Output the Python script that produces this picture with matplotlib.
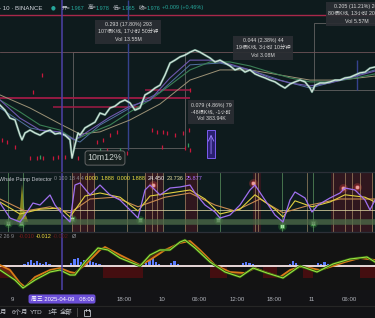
import numpy as np
import matplotlib
matplotlib.use('Agg')
import matplotlib.pyplot as plt
from matplotlib.patches import Rectangle
from matplotlib.lines import Line2D

plt.rcParams['font.family'] = ['Liberation Sans', 'Noto Sans CJK SC', 'DejaVu Sans']

# ---------------- data (time = hours from 2025-04-09 00:00) ----------------
price_t = [-1.92, -1.12, -0.32, 0.48, 1.28, 1.60, 2.08, 2.88, 3.68, 4.48,
           5.28, 6.08, 6.88, 7.68, 8.48, 9.28, 9.60, 10.08, 10.56, 10.88,
           11.68, 12.48, 13.28, 14.08, 14.88, 15.68, 16.48, 17.28, 18.08, 18.88,
           19.68, 20.48, 21.28, 22.08, 22.88, 23.68, 24.48, 25.28, 26.08, 26.88,
           27.68, 28.48, 29.28, 30.08, 30.88, 31.68, 32.48, 33.28, 34.08, 34.88,
           35.68, 36.48, 37.28, 38.08, 38.88, 39.68, 40.48, 41.28, 42.08, 42.88,
           43.68, 44.48, 45.28, 46.08, 46.88, 47.68, 48.00, 48.48, 49.28, 50.08,
           50.88, 51.68, 52.48, 53.28, 54.08, 54.88, 55.68, 56.48, 57.28, 58.08]
price_v = [1.798, 1.784, 1.762, 1.757, 1.715, 1.702, 1.721, 1.729, 1.721, 1.715,
           1.724, 1.729, 1.718, 1.721, 1.715, 1.702, 1.652, 1.688, 1.721, 1.715,
           1.735, 1.743, 1.751, 1.776, 1.771, 1.790, 1.795, 1.806, 1.812, 1.804,
           1.784, 1.790, 1.826, 1.834, 1.845, 1.853, 1.881, 1.914, 1.922, 1.931,
           1.936, 1.944, 1.950, 1.944, 1.936, 1.928, 1.917, 1.922, 1.914, 1.906,
           1.895, 1.900, 1.889, 1.895, 1.884, 1.878, 1.873, 1.867, 1.862, 1.853,
           1.845, 1.856, 1.862, 1.867, 1.862, 1.845, 1.834, 1.853, 1.859, 1.859,
           1.862, 1.867, 1.867, 1.873, 1.875, 1.881, 1.887, 1.889, 1.900, 1.903]

ma_t = [-1.92, 1.28, 4.48, 7.68, 10.08, 12.48, 15.68, 18.88, 22.08, 25.28,
        28.48, 31.68, 34.88, 38.08, 41.28, 44.48, 47.68, 50.88, 54.08, 58.08]
ma_green = [1.812, 1.779, 1.743, 1.729, 1.702, 1.721, 1.743, 1.779, 1.812, 1.853,
            1.895, 1.917, 1.917, 1.906, 1.889, 1.873, 1.862, 1.862, 1.870, 1.884]
ma_purple = [1.812, 1.762, 1.729, 1.724, 1.702, 1.729, 1.765, 1.795, 1.812, 1.873,
             1.922, 1.922, 1.911, 1.895, 1.873, 1.859, 1.851, 1.859, 1.873, 1.892]
slow_t = [-1.92, 2.88, 7.68, 10.88, 14.08, 18.88, 23.68, 28.48, 33.28, 38.08,
          42.88, 47.68, 52.48, 58.08]
ma_beige = [1.826, 1.790, 1.746, 1.718, 1.724, 1.757, 1.801, 1.867, 1.895, 1.895,
            1.881, 1.867, 1.867, 1.878]
ma_blue = [1.790, 1.735, 1.718, 1.696, 1.743, 1.790, 1.834, 1.909, 1.914, 1.895,
           1.867, 1.845, 1.867, 1.895]

red_tick_t = [4.8, 3.36, -1.6, -0.8, 0.48, 2.88, 4.0, 4.96, 6.56, 7.36, 8.48, 10.56,
              13.6, 14.56, 15.68, 16.8, 15.2, 16.48, 17.6, 18.4, 22.4, 23.2, 24.16,
              24.8, 26.08, 27.36, 24.0, 27.68, 28.48, 28.32, 28.48]
red_tick_p = [1.881, 1.834, 1.702, 1.696, 1.682, 1.652, 1.652, 1.652, 1.652, 1.655,
              1.655, 1.652, 1.696, 1.702, 1.715, 1.724, 1.674, 1.655, 1.660, 1.666,
              1.729, 1.724, 1.724, 1.721, 1.715, 1.721, 1.682, 1.680, 1.840, 1.729, 1.674]
green_tick_t = [4.48, 17.28, 14.08, 28.16]
green_tick_p = [1.655, 1.674, 1.674, 1.688]

# Whale Pump Detector
osc_t = [-1.92, -0.32, 1.28, 2.08, 3.36, 4.48, 6.08, 6.88, 8.16, 9.28,
         10.08, 10.88, 12.48, 14.08, 15.68, 17.28, 18.88, 20.16, 21.28, 22.08,
         23.68, 25.28, 26.88, 28.48, 29.28, 30.88, 32.48, 33.28, 34.88, 36.48,
         38.08, 38.88, 40.48, 42.08, 43.36, 44.48, 45.28, 46.88, 48.0, 48.96,
         50.88, 52.48, 53.28, 54.88, 56.48, 57.28, 58.08]
osc_purple = [48.3, 23.3, 16.7, 28.3, 48.3, 45, 61.7, 45, 28.3, 16.7,
              78.3, 81.7, 61.7, 78.3, 61.7, 53.3, 36.7, 23.3, 70, 78.3,
              61.7, 73.3, 75, 78.3, 65, 45, 33.3, 23.3, 28.3, 45,
              70, 78.3, 53.3, 28.3, 16.7, 53.3, 66.7, 56.7, 33.3, 45,
              56.7, 65, 73.3, 70, 53.3, 36.7, 53.3]
yel_t = [-1.92, 1.28, 4.48, 7.68, 9.28, 11.68, 14.08, 17.28, 20.16, 22.08,
         25.28, 28.48, 30.88, 33.28, 36.48, 38.88, 42.08, 43.36, 45.28, 48.0,
         50.88, 53.28, 56.48, 58.08]
osc_yellow = [50, 30, 38, 40, 25, 60, 65, 58, 35, 60,
              65, 70, 55, 30, 38, 62, 38, 25, 52, 42,
              50, 62, 58, 50]
org_t = [-1.92, 2.08, 6.08, 9.28, 12.48, 16.48, 20.16, 24.48, 28.48, 32.48,
         35.68, 39.68, 43.36, 47.68, 52.48, 58.08]
osc_orange = [55, 35, 42, 32, 55, 58, 42, 58, 65, 45,
              35, 55, 32, 45, 55, 55]
spike_t = [0.6, 1.2, 1.6, 2.0, 2.6]
spike_v = [17, 30, 80, 35, 17]
vline_beige = [9.6, 10.88, 12.0, 13.12, 18.4, 21.28, 22.4, 23.2, 24.16, 27.68,
               29.6, 38.88, 39.36, 47.2, 51.36, 53.28, 54.4, 55.68, 57.6]
vline_green = [-0.64, 1.76, 33.28, 43.2, 48.16]
red_zones = [(9.6, 13.2), (21.3, 24.2), (27.7, 29.6), (38.5, 39.8), (51.0, 57.8)]
buy_t = [-0.64, 1.44, 9.6, 20.48, 32.96, 43.2, 48.16]
buy_v = [15, 15, 22, 20, 20, 10, 15]
sell_t = [22.56, 38.56, 52.96, 55.2]
sell_v = [78, 82, 73, 75]

# MACD-like pane
macd_t = [-1.92, -0.32, 1.28, 2.08, 3.68, 6.08, 7.68, 9.28, 10.08, 11.68,
          14.08, 14.88, 17.28, 20.48, 22.08, 24.48, 26.88, 28.48, 30.08, 32.48,
          34.88, 37.28, 38.88, 40.48, 42.88, 44.48, 46.08, 47.68, 49.28, 50.88,
          53.28, 55.68, 58.08]
macd_orange = [0.001, -0.004, -0.017, -0.021, -0.011, -0.004, -0.002, -0.006, -0.007, 0.001,
               0.016, 0.019, 0.011, 0.001, 0.006, 0.016, 0.023, 0.025, 0.016, 0.001,
               -0.006, -0.007, -0.002, -0.006, -0.011, -0.004, -0.001, -0.002, -0.004, -0.001,
               0.004, 0.008, 0.006]
sig_t = [-1.92, 0.48, 1.76, 3.68, 6.08, 7.68, 9.28, 10.08, 11.68, 13.76,
         15.36, 17.28, 20.48, 22.08, 23.68, 25.28, 26.88, 27.68, 29.28, 31.68,
         34.08, 36.48, 38.56, 40.8, 43.36, 46.08, 48.8, 51.36, 54.08, 56.8, 58.08]
macd_green = [-0.004, -0.014, -0.022, -0.014, -0.006, -0.004, -0.009, -0.009, 0.004, 0.018,
              0.016, 0.008, 0.0, 0.011, 0.016, 0.016, 0.024, 0.026, 0.018, 0.004,
              -0.006, -0.011, -0.002, -0.007, -0.012, 0.0, -0.006, 0.002, 0.007, 0.009, 0.004]
hist_t = [2.0, 2.5, 3.0, 3.5, 4.0, 4.5, 5.0, 5.5, 6.0,
          9.5, 10.0, 10.5, 11.0, 11.5, 12.0, 12.5, 13.0, 13.5, 14.0,
          21.5, 22.0, 22.5, 23.0, 23.5, 25.5, 26.0, 26.5,
          37.0, 37.5, 38.0, 38.5, 44.5, 45.0, 45.5, 49.0, 49.5, 50.0, 50.5]
hist_v = [0.002, 0.004, 0.006, 0.003, 0.005, 0.003, 0.002, 0.004, 0.002,
          0.003, 0.007, 0.008, 0.004, 0.006, 0.003, 0.005, 0.004, 0.003, 0.002,
          0.003, 0.006, 0.008, 0.004, 0.002, 0.003, 0.005, 0.002,
          0.003, 0.004, 0.003, 0.002, 0.002, 0.005, 0.003, 0.003, 0.002, 0.004, 0.002]
neg_zones = [(-1.92, -0.32), (14.56, 20.96), (31.68, 34.4), (40.16, 42.4), (46.56, 48.16), (55.68, 58.08)]

time_ticks = [0, 18, 24, 30, 36, 42, 48, 54]
time_labels = ['9', '18:00', '10', '06:00', '12:00', '18:00', '11', '06:00']
cross_t = 8.0

XLIM = (-1.92, 58.08)
W, H = 375.0, 318.0

# ---------------- figure ----------------
fig = plt.figure(figsize=(3.75, 3.18), dpi=100, facecolor='#131316')


def pane(top, bottom):
    return fig.add_axes([0, 1 - bottom / H, 1, (bottom - top) / H])


def ftext(x, y, s, **kw):
    kw.setdefault('va', 'center')
    return fig.text(x / W, 1 - y / H, s, **kw)


ax = pane(0, 172)
ai = pane(172, 232)
am = pane(232, 290)
for a in (ax, ai, am):
    a.set_xlim(XLIM)
    a.set_xticks([])
    a.set_yticks([])
    for s in a.spines.values():
        s.set_visible(False)
ax.set_facecolor('#0e1b1d')
ai.set_facecolor('#0e1b1d')
am.set_facecolor('#131313')
ax.set_ylim(1.6133, 2.088)
ai.set_ylim(0, 100)
am.set_ylim(-0.024, 0.034)

# ----- price pane -----
ax.axhline(2.047, color='#a8284a', lw=1.0)
ax.axhline(1.944, color='#6e5458', lw=0.6)
ax.hlines(1.818, -1.92, 28.48, color='#a01a45', lw=1.3)
ax.hlines(1.793, 6.56, 20.48, color='#a01a45', lw=1.1)
ax.hlines(1.840, 21.28, 28.48, color='#a01a45', lw=1.1)

ax.add_patch(Rectangle((9.76, 1.680), 27.68 - 9.76, 1.944 - 1.680, fill=False, ec='#626262', lw=0.6))
ax.add_patch(Rectangle((48.32, 1.840), 12, 2.025 - 1.840, fill=False, ec='#626262', lw=0.6))
ax.vlines(18.56, 1.674, 2.088, color='#36428e', lw=1.0)
ax.vlines(55.2, 1.840, 1.922, color='#36428e', lw=1.0)

ax.vlines(red_tick_t, np.array(red_tick_p) - 0.006, np.array(red_tick_p) + 0.006, color='#c8183c', lw=0.9)
ax.vlines(green_tick_t, np.array(green_tick_p) - 0.005, np.array(green_tick_p) + 0.005, color='#2e9e5e', lw=0.9)

ax.plot(slow_t, ma_beige, color='#9c9276', lw=0.7)
ax.plot(slow_t, ma_blue, color='#52719f', lw=0.7)
ax.plot(ma_t, ma_green, color='#3a7f55', lw=0.8)
ax.plot(ma_t, ma_purple, color='#6e58ae', lw=0.8)
ax.plot(price_t, price_v, color='#7fb8a4', lw=1.6, alpha=0.7)
ax.plot(price_t, price_v, color='#d6e8de', lw=0.8)

ax.add_patch(Rectangle((31.2, 1.652), 1.3, 1.729 - 1.652, fc='#2a2070', ec='#7b5cf0', lw=0.7))
ax.annotate('', xy=(31.85, 1.724), xytext=(31.85, 1.656),
            arrowprops=dict(arrowstyle='->', color='#9a80ff', lw=0.6))

tip = dict(boxstyle='square,pad=0.5', fc='#2b2e33', ec='none', alpha=0.93)
for xx, yy, s in [(128, 32, '0.293 (17.80%) 293\n107根K线, 17小时 50分钟\nVol 13.55M'),
                  (263, 48, '0.044 (2.38%) 44\n19根K线, 3小时 10分钟\nVol 3.08M'),
                  (357, 14, '0.205 (11.21%) 205\n80根K线, 13小时 20分钟\nVol 5.57M'),
                  (211, 112, '0.079 (4.86%) 79\n-48根K线, -1小时\nVol 383.94K')]:
    ax.text(xx / W, 1 - yy / 172, s, transform=ax.transAxes, ha='center', va='center',
            fontsize=3.8, color='#d8d8d8', linespacing=1.5, bbox=tip)
ax.text(105 / W, 1 - 158 / 172, '10m12%', transform=ax.transAxes, ha='center', va='center',
        fontsize=6.3, color='#c8cfcc',
        bbox=dict(boxstyle='round,pad=0.3', fc='#16201f', ec='#707070', lw=0.6))

# header
ftext(-1, 8, '- 10 · BINANCE', fontsize=4.4, color='#d1d4dc', ha='left')
ftext(53, 8, '●', fontsize=4.0, color='#26a69a', ha='center', family=['DejaVu Sans'])
hx = 62
for lab, val in [('开=', '1.967'), ('高=', '1.978'), ('低=', '1.965'), ('收=', '1.976')]:
    ftext(hx, 8, lab, fontsize=4.0, color='#c9ccd3', ha='left')
    ftext(hx + 8.5, 8, val, fontsize=4.0, color='#26a69a', ha='left')
    hx += 25.5
ftext(hx - 1.5, 8, '+0.009 (+0.46%)', fontsize=4.0, color='#26a69a', ha='left')

# ----- Whale Pump Detector pane -----
for a, b in red_zones:
    ai.axvspan(a, b, color='#5a1420', alpha=0.45, lw=0)
for v in vline_beige:
    ai.axvline(v, color='#c8a878', alpha=0.55, lw=0.7)
for v in vline_green:
    ai.axvline(v, color='#6cae6c', alpha=0.6, lw=0.7)
ai.axhline(16.7, color='#4e6e4a', lw=4, alpha=0.75)
ai.axhline(36.7, color='#d8d0a0', lw=0.7, alpha=0.8)
ai.fill(spike_t, spike_v, color='#9a9a20', alpha=0.85, lw=0)
ai.plot(org_t, osc_orange, color='#c88a50', lw=0.8)
ai.plot(yel_t, osc_yellow, color='#e0cf40', lw=0.8)
ai.plot(osc_t, osc_purple, color='#a070f0', lw=0.9)
ai.scatter(buy_t, buy_v, s=40, color='#40c040', alpha=0.25, lw=0)
ai.scatter(buy_t, buy_v, s=9, marker='s', color='#a8e8a8', edgecolors='#3a8a3a', lw=0.4)
ai.scatter(sell_t, sell_v, s=40, color='#e04040', alpha=0.3, lw=0)
ai.scatter(sell_t, sell_v, s=9, marker='o', color='#e8a0a0', edgecolors='#a03030', lw=0.4)

ftext(-1, 179, 'Whale Pump Detector', fontsize=3.9, color='#c0c3ca', ha='left')
ftext(54, 179, '0 100 18 4 4', fontsize=3.8, color='#8a8d94', ha='left')
for xx, s, c in [(85, '0.000', '#f0e040'), (101, '1.888', '#f0e040'), (117, '0.000', '#f0e040'),
                 (132, '1.888', '#f0e040'), (148, '24.450', '#f0f0f0'), (167, '23.736', '#e8e0a0'),
                 (186, '25.877', '#b070ff')]:
    ftext(xx, 179, s, fontsize=4.0, color=c, ha='left')

# ----- MACD pane -----
for a, b in neg_zones:
    am.fill_between([a, b], -0.012, 0.0, color='#4a0e10', alpha=0.9, lw=0)
am.bar(hist_t, hist_v, width=0.35, color='#5b7cff', lw=0)
am.axhline(0.0, color='#e8d8d8', lw=1.4)
grid_t = np.linspace(XLIM[0], XLIM[1], 300)
am.fill_between(grid_t, np.interp(grid_t, macd_t, macd_orange), np.interp(grid_t, sig_t, macd_green),
                color='#a04010', alpha=0.45, lw=0)
am.plot(macd_t, macd_orange, color='#d87a18', lw=1.3)
am.plot(sig_t, macd_green, color='#2a5a10', lw=1.8)
am.plot(sig_t, macd_green, color='#9be040', lw=0.8)

ftext(-1, 237, '2 26 9', fontsize=4.0, color='#8a8d94', ha='left')
ftext(19, 237, '-0.010', fontsize=4.0, color='#7a1a1a', ha='left')
ftext(36, 237, '-0.012', fontsize=4.0, color='#f0e040', ha='left')
ftext(53, 237, '-0.002', fontsize=4.0, color='#5a1a1a', ha='left')
ftext(72, 237, 'Ø', fontsize=4.0, color='#a0a3aa', ha='left')

# crosshair
for a in (ax, ai, am):
    a.axvline(cross_t, color='#4d41a8', lw=1.1)

# time axis
am.set_xticks(time_ticks)
am.set_xticklabels(time_labels)
am.tick_params(axis='x', length=0, pad=5, labelsize=4.4, labelcolor='#b0b3ba')
ftext(62, 299, '周三 2025-04-09   08:00', fontsize=4.2, color='#ffffff', ha='center',
      bbox=dict(boxstyle='round,pad=0.35', fc='#6c4fd8', ec='none'))

# separators
for yy in (172, 232):
    fig.add_artist(Line2D([0, 1], [1 - yy / H] * 2, color='#2c3038', lw=0.9))
fig.add_artist(Line2D([0, 1], [1 - 306 / H] * 2, color='#262626', lw=0.8))

# toolbar
for xx, s in [(0, '月'), (12, '6个月'), (30, 'YTD'), (47, '1年'), (60, '全部')]:
    ftext(xx, 312, s, fontsize=4.6, color='#c0c3ca', ha='left')
fig.add_artist(Line2D([77 / W, 77 / W], [1 - 308 / H, 1 - 316 / H], color='#4a4a4a', lw=0.7))
fig.add_artist(Rectangle((84 / W, 1 - 315.5 / H), 6 / W, 6 / H, transform=fig.transFigure,
                         fill=False, ec='#c0c3ca', lw=0.6))
fig.add_artist(Line2D([85.5 / W, 85.5 / W], [1 - 308.5 / H, 1 - 310.5 / H], color='#c0c3ca', lw=0.6))
fig.add_artist(Line2D([88.5 / W, 88.5 / W], [1 - 308.5 / H, 1 - 310.5 / H], color='#c0c3ca', lw=0.6))

fig.savefig('out.png', dpi=100, facecolor=fig.get_facecolor())
